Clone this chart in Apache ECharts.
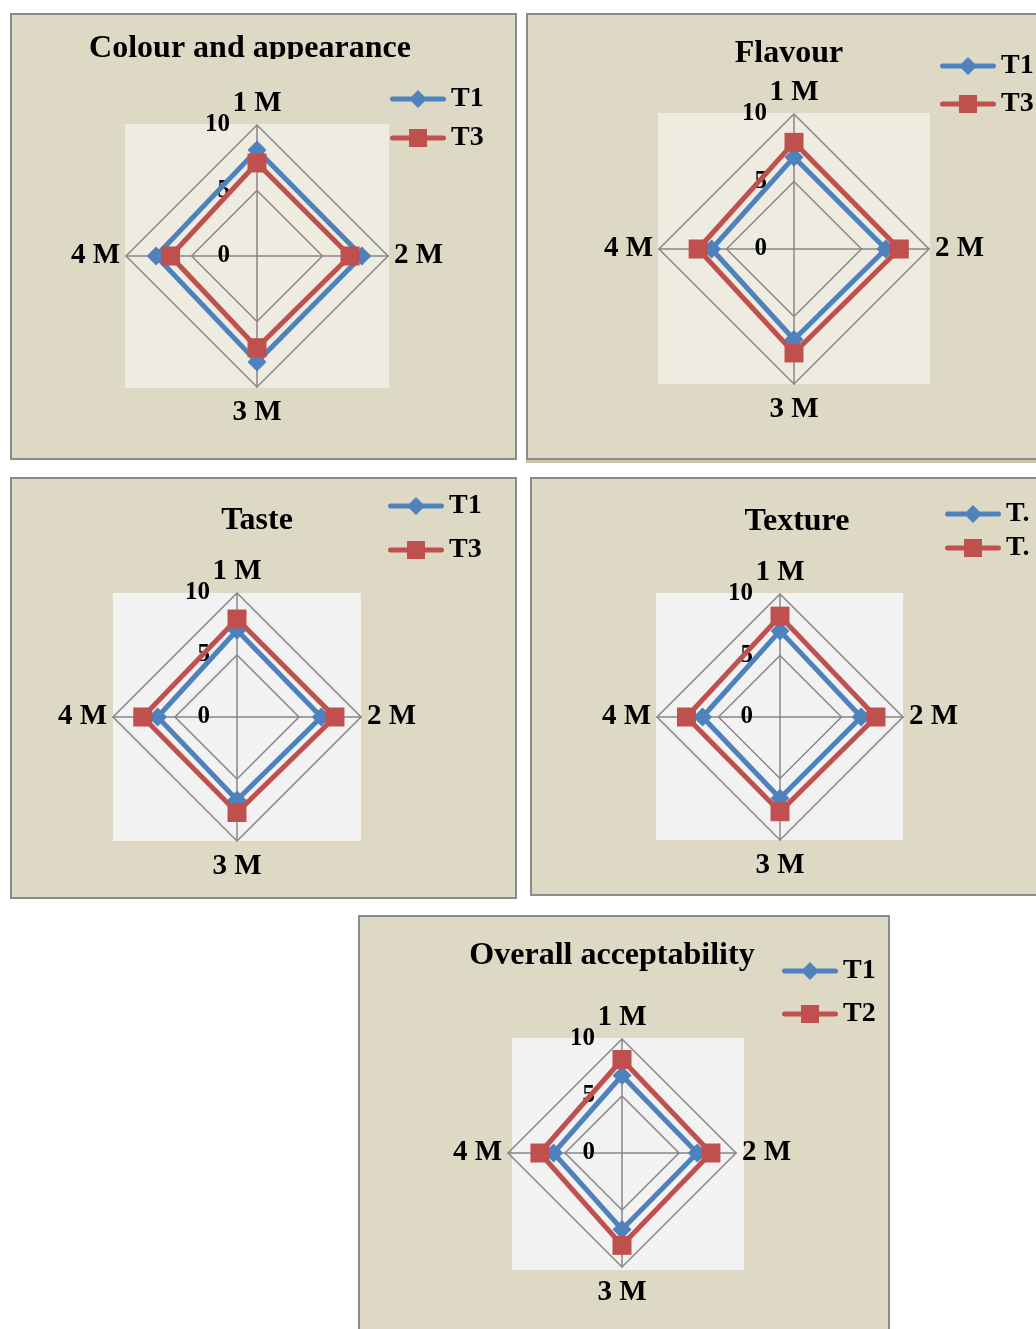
<!DOCTYPE html>
<html>
<head>
<meta charset="utf-8">
<script src="https://cdn.jsdelivr.net/npm/echarts@6/dist/echarts.min.js"></script>
<style>
  html, body { margin: 0; padding: 0; background: #ffffff; width: 1036px; height: 1329px; overflow: hidden; position: relative; }
  .panel { position: absolute; box-sizing: border-box; border: 2px solid #8c8c8c; background: #DDD9C4; }
  .panel > div { position: absolute; left: 0; top: 0; right: 0; bottom: 0; }
</style>
</head>
<body>
<script>
// Storage months (radar axes, clockwise from the top)
const months = ['1 M', '2 M', '3 M', '4 M'];
const scaleMax = 10;
const scaleSplits = 2; // rings at 0, 5, 10

// Sensory scores per month
const colourT1  = [8.1, 8.0, 8.1, 7.7];
const colourT3  = [7.1, 7.1, 7.0, 6.6];
const flavourT1 = [6.8, 6.8, 6.7, 6.1];
const flavourT3 = [7.9, 7.8, 7.7, 7.1];
const tasteT1   = [7.0, 6.8, 6.7, 6.4];
const tasteT3   = [7.9, 7.9, 7.7, 7.6];
const textureT1 = [7.0, 6.6, 6.6, 6.3];
const textureT3 = [8.2, 7.8, 7.7, 7.6];
const overallT1 = [6.8, 6.6, 6.7, 6.0];
const overallT2 = [8.2, 7.8, 8.1, 7.2];

const FONT = '"Liberation Serif", "Times New Roman", serif';
const BLUE = '#4F81BD';
const RED = '#C0504D';
const GRID = '#878787';
const PANEL_BG = '#DDD9C4';

// legend glyphs: a round-capped line with a diamond / a square in the middle (56 x 20 box)
const DIAMOND_ICON = 'path://M2.5,7.5 H21.5 L28,1 L34.5,7.5 H53.5 A2.5,2.5 0 0 1 53.5,12.5 H34.5 L28,19 L21.5,12.5 H2.5 A2.5,2.5 0 0 1 2.5,7.5 Z';
const SQUARE_ICON  = 'path://M2.5,7.5 H19 V1 H37 V7.5 H53.5 A2.5,2.5 0 0 1 53.5,12.5 H37 V19 H19 V12.5 H2.5 A2.5,2.5 0 0 1 2.5,7.5 Z';

// ECharts lays radar axes counter-clockwise from the top, so feed them as 1, 4, 3, 2
const axisOrder = [0, 3, 2, 1];
const reorder = arr => axisOrder.map(i => arr[i]);

const panels = [
  { title: 'Colour and appearance', box: [10, 13, 507, 447], center: [257, 256], r: 131,
    plot: [125, 124, 264, 264], plotColor: '#EEECE1', titleAt: [250, 49], titleClipY: 59,
    legendAt: [390, 99], legendStep: 39, names: ['T1', 'T3'], values: [colourT1, colourT3] },
  { title: 'Flavour', box: [526, 13, 530, 447], center: [794, 249], r: 135,
    plot: [658, 113, 272, 271], plotColor: '#EEECE1', titleAt: [789, 54], underline: true,
    legendAt: [940, 66], legendStep: 38, names: ['T1', 'T3'], values: [flavourT1, flavourT3] },
  { title: 'Taste', box: [10, 477, 507, 422], center: [237, 717], r: 124,
    plot: [113, 593, 248, 248], plotColor: '#F2F2F2', titleAt: [257, 521],
    legendAt: [388, 506], legendStep: 44, names: ['T1', 'T3'], values: [tasteT1, tasteT3] },
  { title: 'Texture', box: [530, 477, 530, 419], center: [780, 717], r: 123,
    plot: [656, 593, 247, 247], plotColor: '#F2F2F2', titleAt: [797, 522],
    legendAt: [945, 514], legendStep: 34, names: ['T1', 'T3'], values: [textureT1, textureT3],
    legendText: 'T.' },
  { title: 'Overall acceptability', box: [358, 915, 532, 430], center: [622, 1153], r: 114,
    plot: [512, 1038, 232, 232], plotColor: '#F2F2F2', titleAt: [612, 956],
    legendAt: [782, 971], legendStep: 43, names: ['T1', 'T2'], values: [overallT1, overallT2] }
];

const seriesLook = [
  { color: BLUE, symbol: 'diamond', symbolSize: 19, icon: DIAMOND_ICON },
  { color: RED, symbol: 'rect', symbolSize: 19, icon: SQUARE_ICON }
];

// per-axis nudges for the month names (top, right, bottom, left)
const nameStyle = { fontFamily: FONT, fontWeight: 'bold', fontSize: 29, color: '#000' };
const nameRich = {
  top:    Object.assign({ padding: [0, 0, 6, 0] }, nameStyle),
  right:  Object.assign({ padding: [0, 0, 0, 5] }, nameStyle),
  bottom: Object.assign({ padding: [10, 0, 0, 0] }, nameStyle),
  left:   Object.assign({ padding: [0, 5, 0, 0] }, nameStyle)
};
const sideOf = { '1 M': 'top', '2 M': 'right', '3 M': 'bottom', '4 M': 'left' };

panels.forEach(p => {
  const wrap = document.createElement('div');
  wrap.className = 'panel';
  wrap.style.left = p.box[0] + 'px';
  wrap.style.top = p.box[1] + 'px';
  wrap.style.width = p.box[2] + 'px';
  wrap.style.height = p.box[3] + 'px';
  if (p.underline) wrap.style.boxShadow = '0 3px 0 0 #CBC4A2';
  const inner = document.createElement('div');
  wrap.appendChild(inner);
  document.body.appendChild(wrap);

  // chart coordinates start inside the 2px border
  const ox = p.box[0] + 2, oy = p.box[1] + 2;
  const chart = echarts.init(inner, null, { renderer: 'canvas' });

  const indicator = reorder(months).map((m, i) => {
    const ind = { name: m, min: 0, max: scaleMax, nameMoveOverlap: false };
    if (i === 0) {
      ind.axisLabel = {
        show: true, color: '#000', fontFamily: FONT, fontWeight: 'bold',
        fontSize: 25, margin: 27
      };
    }
    return ind;
  });

  const graphic = [
    { type: 'rect', z: -1, silent: true,
      shape: { x: p.plot[0] - ox, y: p.plot[1] - oy, width: p.plot[2], height: p.plot[3] },
      style: { fill: p.plotColor } },
    { type: 'text', silent: true, z: 1,
      x: p.titleAt[0] - ox, y: p.titleAt[1] - oy,
      style: { text: p.title, fill: '#000', font: 'bold 32px ' + FONT,
               textAlign: 'center', textVerticalAlign: 'middle' } }
  ];
  if (p.titleClipY) {
    // the title box is too short, so the descenders are cut off
    graphic.push({ type: 'rect', silent: true, z: 2,
      shape: { x: p.titleAt[0] - ox - 175, y: p.titleClipY - oy, width: 350, height: 12 },
      style: { fill: PANEL_BG } });
  }

  chart.setOption({
    animation: false,
    graphic: graphic,
    legend: {
      orient: 'vertical',
      left: p.legendAt[0] - ox,
      top: p.legendAt[1] - oy - 15,
      padding: 0,
      itemWidth: 56, itemHeight: 20,
      itemGap: p.legendStep - 30,
      selectedMode: false,
      formatter: name => p.legendText || name,
      textStyle: { fontFamily: FONT, fontWeight: 'bold', fontSize: 28, color: '#000', lineHeight: 30 },
      data: p.names.map((n, i) => ({ name: n, icon: seriesLook[i].icon }))
    },
    radar: {
      center: [p.center[0] - ox, p.center[1] - oy],
      radius: p.r,
      startAngle: 90,
      shape: 'polygon',
      splitNumber: scaleSplits,
      axisNameGap: 1,
      axisName: Object.assign({
        formatter: name => '{' + sideOf[name] + '|' + name + '}',
        rich: nameRich
      }, nameStyle),
      splitLine: { lineStyle: { color: GRID, width: 1.5 } },
      splitArea: { show: false },
      axisLine: { lineStyle: { color: GRID, width: 1.5 } },
      axisTick: { show: false },
      axisLabel: { show: false },
      indicator: indicator
    },
    series: p.names.map((n, i) => ({
      type: 'radar',
      name: n,
      symbol: seriesLook[i].symbol,
      symbolSize: seriesLook[i].symbolSize,
      lineStyle: { color: seriesLook[i].color, width: 5 },
      itemStyle: { color: seriesLook[i].color },
      data: [{ name: n, value: reorder(p.values[i]) }]
    }))
  });
});
</script>
</body>
</html>
